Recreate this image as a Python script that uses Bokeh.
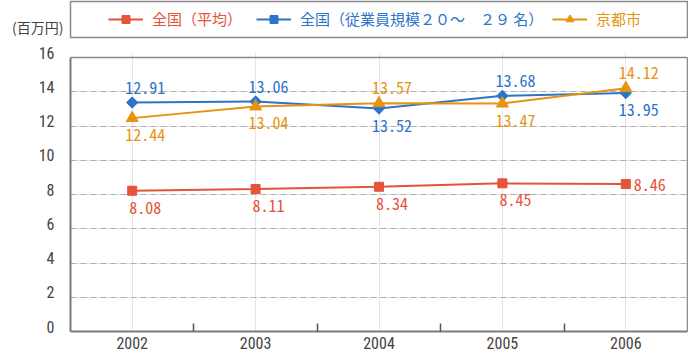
import math
from bokeh.plotting import figure
from bokeh.models import (ColumnDataSource, Range1d, FixedTicker, LinearAxis, Grid,
                          Legend, LegendItem)
from bokeh.layouts import column
from bokeh.embed import file_html
from bokeh.resources import INLINE
from bokeh.core.properties import value

# ---- data ----
years = [2002, 2003, 2004, 2005, 2006]
national_avg = [8.22, 8.32, 8.45, 8.65, 8.61]
national_20_29 = [13.37, 13.43, 13.02, 13.76, 13.92]
kyoto = [12.46, 13.14, 13.33, 13.31, 14.21]
national_avg_labels = ["8.08", "8.11", "8.34", "8.45", "8.46"]
national_20_29_labels = ["12.91", "13.06", "13.52", "13.68", "13.95"]
kyoto_labels = ["12.44", "13.04", "13.57", "13.47", "14.12"]
y_ticks = [0, 2, 4, 6, 8, 10, 12, 14, 16]
series_names = ["全国（平均）", "全国（従業員規模２０～　２９ 名）", "京都市"]
unit_label = "(百万円)"

# ---- styles ----
RED = "#e5533a"
BLUE = "#2b74c8"
ORANGE = "#e6930f"
GRAY = "#8a8a8a"
AXC = "#7a7a7a"
TXT = "#444444"
AXIS_FONT = "'Liberation Sans Narrow', 'Roboto Condensed', Roboto, sans-serif"
LABEL_FONT = "'Noto Sans Mono CJK JP', 'DejaVu Sans Mono', monospace"
CJK_FONT = "'Noto Sans CJK JP', sans-serif"
W = 688

placements = {
    "red": ["below", "below", "below", "below", "right"],
    "blue": ["above", "above", "below", "above", "below"],
    "orange": ["below", "below", "above", "below", "above"],
}
OFFS = {"above": (13, -15, "center"), "below": (13, 17, "center"), "right": (8, 1, "left")}

y0, y1 = y_ticks[0], y_ticks[-1]
px_per_unit = 274.0 / (y1 - y0)
shift = 5.0 / px_per_unit          # tick labels sit ~5px above their grid lines

# ---- main figure ----
x_range = Range1d(years[0] - 0.5, years[-1] + 0.5)
y_range = Range1d(y0, y1 + shift)
p = figure(width=W, height=315, output_backend="svg", toolbar_location=None,
           x_range=x_range, y_range=y_range, y_axis_location=None,
           min_border_left=70, min_border_right=1, min_border_top=12, min_border_bottom=24)
p.background_fill_color = "white"
p.border_fill_color = "white"
p.outline_line_color = None
p.extra_y_ranges = {"lab": Range1d(y0 - shift, y1)}

# x axis
xa = p.xaxis[0]
xa.ticker = FixedTicker(ticks=years, minor_ticks=[y + 0.5 for y in years[:-1]])
xa.major_tick_line_color = None
xa.major_tick_out = 0
xa.minor_tick_in = 8
xa.minor_tick_out = 0
xa.minor_tick_line_color = "#555555"
xa.minor_tick_line_width = 1.5
xa.axis_line_color = AXC
xa.axis_line_width = 2
xa.major_label_standoff = 5
xa.major_label_text_font = AXIS_FONT
xa.major_label_text_font_size = "16px"
xa.major_label_text_color = TXT

# left axis: labels on the shifted range, line only over the value span
ya = LinearAxis(y_range_name="lab", ticker=FixedTicker(ticks=y_ticks),
                bounds=(y0 - shift, y1 - shift),
                major_tick_line_color=None, major_tick_out=0, minor_tick_line_color=None,
                major_label_standoff=16, major_label_text_font=AXIS_FONT,
                major_label_text_font_size="16px", major_label_text_color=TXT,
                axis_line_color=AXC, axis_line_width=2)
p.add_layout(ya, "left")

# right border as a bare axis over the value span
ra = LinearAxis(ticker=FixedTicker(ticks=[]), bounds=(y0, y1),
                major_tick_line_color=None, major_tick_out=0, minor_tick_line_color=None,
                major_label_standoff=0, major_label_text_color=None,
                axis_line_color=GRAY, axis_line_width=1.5)
p.add_layout(ra, "right")

# grid: dashed inner lines, solid top border at the top value
p.add_layout(Grid(dimension=1, ticker=FixedTicker(ticks=y_ticks[1:-1]),
                  grid_line_color="#b0b0b0", grid_line_dash="6 4", grid_line_width=1))
p.add_layout(Grid(dimension=1, ticker=FixedTicker(ticks=[y1]),
                  grid_line_color=GRAY, grid_line_width=1.5))

MARKERS = {"red": ("square", 9, 0.0), "blue": ("square", 8, math.pi / 4),
           "orange": ("triangle", 12, 0.0)}

def series(fig, vals, labels, color, key, with_labels=True):
    src = ColumnDataSource(dict(
        x=years, y=vals, label=labels,
        dx=[OFFS[k][0] for k in placements[key]],
        dy=[OFFS[k][1] for k in placements[key]],
        al=[OFFS[k][2] for k in placements[key]],
    ))
    marker, msize, ang = MARKERS[key]
    lr = fig.line("x", "y", source=src, line_color=color, line_width=2)
    sr = fig.scatter("x", "y", source=src, marker=marker, size=msize, angle=ang,
                     fill_color=color, line_color=color)
    if with_labels:
        fig.text("x", "y", text="label", source=src, x_offset="dx", y_offset="dy",
                 text_align="al", text_baseline="middle", text_color=color,
                 text_font=value(LABEL_FONT), text_font_size="16px")
    return lr, sr

series(p, national_avg, national_avg_labels, RED, "red")
series(p, national_20_29, national_20_29_labels, BLUE, "blue")
series(p, kyoto, kyoto_labels, ORANGE, "orange")

# ---- legend figure (its frame is the legend box) ----
pl = figure(width=W, height=40, output_backend="svg", toolbar_location=None,
            x_range=Range1d(0, 1), y_range=Range1d(0, 1),
            x_axis_type=None, y_axis_type=None,
            min_border_left=70, min_border_right=1, min_border_top=1, min_border_bottom=3)
pl.grid.visible = False
pl.outline_line_color = GRAY
pl.outline_line_width = 1.5
pl.background_fill_color = "white"
pl.border_fill_color = "white"

# unit label as the single tick label of a bare left axis
ua = LinearAxis(ticker=FixedTicker(ticks=[0.09]), major_label_overrides={0.09: unit_label},
                axis_line_color=None, major_tick_line_color=None, minor_tick_line_color=None,
                major_tick_out=0, major_label_standoff=7,
                major_label_text_font=CJK_FONT, major_label_text_font_size="14px",
                major_label_text_color=TXT)
pl.add_layout(ua, "left")

legend_specs = [
    (series_names[0], national_avg, national_avg_labels, RED, "red", 38),
    (series_names[1], national_20_29, national_20_29_labels, BLUE, "blue", 186),
    (series_names[2], kyoto, kyoto_labels, ORANGE, "orange", 482),
]
for name, vals, labs, color, key, lx in legend_specs:
    # same series drawn here only to feed the legend glyphs (outside this box's range)
    lr, sr = series(pl, vals, labs, color, key, with_labels=False)
    lg = Legend(items=[LegendItem(label=name, renderers=[lr, sr])],
                location=(lx, 8), orientation="horizontal",
                glyph_width=35, glyph_height=20, label_standoff=9,
                padding=0, margin=0, border_line_color=None,
                background_fill_alpha=0,
                label_text_font=CJK_FONT, label_text_font_size="15px",
                label_text_color=color)
    pl.add_layout(lg)

layout = column(pl, p, spacing=0)
open("out.html", "w").write(file_html(layout, INLINE))
